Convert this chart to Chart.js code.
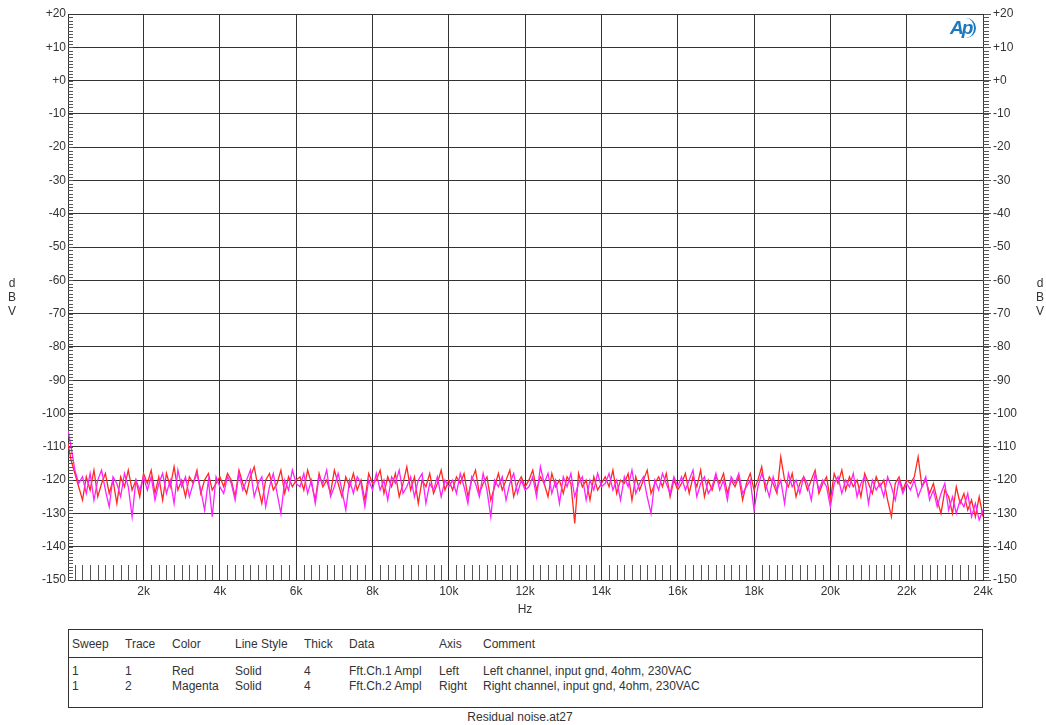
<!DOCTYPE html>
<html lang="en">
<head>
    <meta charset="UTF-8">
    <title>Residual noise</title>
    <script src="https://cdn.jsdelivr.net/npm/chart.js@4.4.1/dist/chart.umd.min.js"></script>
    <style>
        body { margin: 0; background: #fff; font-family: "Liberation Sans", Arial, sans-serif; color: #333; }
        #wrap { position: relative; width: 1046px; height: 725px; }
        #chartBox { position: absolute; left: 0; top: 0; width: 1046px; height: 625px; }
        .vlab { position: absolute; font-size: 12px; line-height: 14px; text-align: center; width: 12px; }
        #hz { position: absolute; left: 505px; top: 602px; width: 40px; text-align: center; font-size: 12px; }
        #logo { position: absolute; left: 950px; top: 17px; font-size: 19px; font-style: italic; font-weight: bold; color: #1e78be; letter-spacing: -2px; }
        #logo span { display: inline-block; border-right: 2px solid #1e78be; border-radius: 0 12px 12px 0; padding-right: 3px; height: 20px; line-height: 20px; }
        #legend { position: absolute; left: 68px; top: 629px; width: 913px; height: 77px; border: 1px solid #333; font-size: 12px; }
        #legend .hline { position: absolute; left: 0; right: 0; top: 27px; border-top: 1px solid #333; }
        #legend div.c { position: absolute; white-space: nowrap; }
        #footer { position: absolute; left: 420px; top: 710px; width: 200px; text-align: center; font-size: 12px; }
    </style>
</head>
<body>
<div id="wrap">
    <div id="chartBox"><canvas id="myChart"></canvas></div>
    <div class="vlab" style="left:6px; top:276px;">d<br>B<br>V</div>
    <div class="vlab" style="left:1034px; top:276px;">d<br>B<br>V</div>
    <div id="hz">Hz</div>
    <div id="logo"><span>Ap</span></div>
    <div id="legend"><div class="hline"></div></div>
    <div id="footer">Residual noise.at27</div>
</div>
<script>
    // frequency steps (Hz)
    const freqs = [20];
    for (let f = 100; f <= 24000; f += 100) freqs.push(f);

    // Fft.Ch.1 Ampl, left channel (dBV)
    const redValues = [
        -109, -114, -118, -122, -126, -119, -123, -117, -125, -121, -118, -124, -120, -127, -119, -122, -117, -123, -120, -125, -118,
        -121, -117, -124, -119, -126, -118, -122, -116, -123, -120, -125, -119, -121, -117, -124, -120, -118, -123, -121, -119,
        -122, -118, -120, -125, -117, -121, -124, -119, -116, -122, -127, -120, -118, -123, -121, -117, -124, -119, -122, -120,
        -119, -123, -117, -121, -126, -118, -122, -120, -124, -117, -121, -125, -119, -122, -118, -123, -120, -126, -118, -121,
        -120, -117, -124, -119, -122, -118, -125, -121, -116, -123, -119, -127, -120, -122, -118, -124, -121, -117, -123, -120,
        -123, -119, -121, -118, -125, -120, -117, -124, -121, -119, -126, -122, -118, -123, -120, -117, -125, -121, -119, -122,
        -120, -117, -123, -119, -121, -125, -118, -122, -120, -124, -119, -121, -133, -118, -122, -120, -126, -119, -123, -121,
        -119, -122, -117, -124, -120, -121, -118, -126, -119, -123, -120, -117, -124, -121, -119, -122, -118, -125, -120, -123,
        -121, -118, -124, -119, -122, -117, -125, -120, -123, -119, -121, -118, -124, -120, -122, -119, -126, -121, -118, -123,
        -120, -116, -123, -119, -121, -124, -113, -120, -122, -118, -125, -121, -119, -123, -120, -117, -124, -121, -119, -126,
        -118, -121, -117, -123, -119, -122, -120, -125, -118, -121, -124, -119, -122, -120, -126, -131, -121, -119, -123, -120,
        -121, -119, -113, -122, -120, -124, -121, -126, -130, -123, -125, -130, -122, -127, -124, -129, -126, -131, -125, -131, -121
    ];

    // Fft.Ch.2 Ampl, right channel (dBV)
    const magentaValues = [
        -105, -110, -117, -121, -119, -124, -118, -126, -120, -117, -123, -128, -119, -121, -125, -118, -122, -131, -120, -123, -119,
        -123, -119, -126, -121, -118, -124, -120, -127, -117, -122, -119, -125, -121, -118, -123, -129, -120, -131, -119, -122,
        -124, -119, -121, -126, -118, -123, -120, -117, -125, -121, -119, -128, -122, -118, -124, -130, -120, -123, -117, -121,
        -122, -118, -124, -120, -127, -119, -121, -117, -125, -122, -118, -123, -129, -120, -124, -119, -121, -128, -120, -123,
        -118, -123, -120, -126, -119, -121, -117, -124, -122, -119, -125, -120, -118, -127, -121, -123, -119, -125, -120, -122,
        -120, -124, -118, -122, -127, -119, -121, -125, -118, -123, -131, -120, -122, -119, -126, -121, -118, -124, -120, -123,
        -122, -119, -125, -116, -121, -118, -124, -120, -127, -119, -122, -118, -125, -121, -119, -126, -120, -123, -118, -122,
        -121, -118, -123, -120, -126, -119, -122, -117, -124, -121, -119, -125, -130, -120, -123, -118, -121, -124, -119, -122,
        -119, -123, -120, -117, -125, -121, -119, -124, -122, -118, -123, -120, -126, -119, -121, -118, -124, -122, -120, -129,
        -122, -118, -121, -125, -119, -123, -120, -127, -118, -122, -120, -124, -119, -121, -126, -118, -123, -120, -122, -128,
        -121, -119, -124, -120, -122, -118, -125, -121, -119, -127, -120, -123, -121, -125, -119, -122, -126, -120, -124, -121,
        -123, -120, -125, -122, -119, -126, -123, -128, -124, -121, -129, -125, -130, -126, -128, -124, -131, -127, -132, -129, -130
    ];

    const xTicks = [2000, 4000, 6000, 8000, 10000, 12000, 14000, 16000, 18000, 20000, 22000, 24000];

    const legendHeader = ['Sweep', 'Trace', 'Color', 'Line Style', 'Thick', 'Data', 'Axis', 'Comment'];
    const legendRows = [
        ['1', '1', 'Red', 'Solid', '4', 'Fft.Ch.1 Ampl', 'Left', 'Left channel, input gnd, 4ohm, 230VAC'],
        ['1', '2', 'Magenta', 'Solid', '4', 'Fft.Ch.2 Ampl', 'Right', 'Right channel, input gnd, 4ohm, 230VAC']
    ];

    // legend table
    const colX = [3, 56, 103, 166, 235, 280, 370, 414];
    const legend = document.getElementById('legend');
    function addRow(cells, top) {
        cells.forEach((t, i) => {
            const d = document.createElement('div');
            d.className = 'c';
            d.style.left = colX[i] + 'px';
            d.style.top = top + 'px';
            d.textContent = t;
            legend.appendChild(d);
        });
    }
    addRow(legendHeader, 7);
    addRow(legendRows[0], 34);
    addRow(legendRows[1], 49);

    function pts(vals) {
        return vals.map((v, i) => ({x: freqs[i], y: v}));
    }

    function dbLabel(v) {
        if (v > 0) return '+' + v;
        if (v === 0) return '+0';
        return '' + v;
    }

    // minor ticks inside / outside the plot
    const minorTicks = {
        id: 'minorTicks',
        afterDraw(chart) {
            const c = chart.ctx, a = chart.chartArea;
            const x = chart.scales.x, yl = chart.scales.y, yr = chart.scales.yRight;
            c.save();
            c.strokeStyle = '#555';
            c.lineWidth = 1;
            c.beginPath();
            for (let v = -149; v < 20; v++) {
                const py = Math.round(yl.getPixelForValue(v)) + 0.5;
                c.moveTo(a.left, py); c.lineTo(a.left + 5, py);
                const pr = Math.round(yr.getPixelForValue(v)) + 0.5;
                c.moveTo(a.right, pr); c.lineTo(a.right + 6, pr);
            }
            for (let f = 200; f < 24000; f += 200) {
                if (f % 2000 === 0) continue;
                const px = Math.round(x.getPixelForValue(f)) + 0.5;
                c.moveTo(px, a.bottom); c.lineTo(px, a.bottom - 15);
            }
            c.stroke();
            c.restore();
        }
    };

    const tickFont = {family: '"Liberation Sans", Arial, sans-serif', size: 12};

    const ctx = document.getElementById('myChart').getContext('2d');
    const myChart = new Chart(ctx, {
        type: 'line',
        data: {
            datasets: [
                {
                    label: 'Red',
                    data: pts(redValues),
                    borderColor: '#ff2a20',
                    borderWidth: 1.3,
                    pointRadius: 0,
                    yAxisID: 'y',
                    order: 2
                },
                {
                    label: 'Magenta',
                    data: pts(magentaValues),
                    borderColor: '#ff22ff',
                    borderWidth: 1.3,
                    pointRadius: 0,
                    yAxisID: 'yRight',
                    order: 1
                }
            ]
        },
        options: {
            responsive: true,
            maintainAspectRatio: false,
            animation: false,
            layout: {padding: {top: 14, left: 0, right: 0, bottom: 0}},
            plugins: {legend: {display: false}, tooltip: {enabled: false}},
            scales: {
                x: {
                    type: 'linear',
                    min: 20,
                    max: 24000,
                    afterBuildTicks: s => { s.ticks = xTicks.map(v => ({value: v})); },
                    afterFit: s => { s.height = 45; },
                    grid: {color: '#333', drawTicks: false},
                    border: {color: '#333'},
                    ticks: {
                        color: '#333', font: tickFont, padding: 4, maxRotation: 0,
                        callback: v => (v / 1000) + 'k'
                    }
                },
                y: {
                    position: 'left',
                    min: -150,
                    max: 20,
                    afterFit: s => { s.width = 68; },
                    grid: {color: '#333', drawTicks: false},
                    border: {color: '#333'},
                    ticks: {stepSize: 10, color: '#333', font: tickFont, padding: 2, callback: dbLabel}
                },
                yRight: {
                    position: 'right',
                    min: -150,
                    max: 20,
                    afterFit: s => { s.width = 63; },
                    grid: {drawOnChartArea: false, color: '#555', tickLength: 8},
                    border: {color: '#333'},
                    ticks: {stepSize: 10, color: '#333', font: tickFont, padding: 2, callback: dbLabel}
                }
            }
        },
        plugins: [minorTicks]
    });
</script>
</body>
</html>
